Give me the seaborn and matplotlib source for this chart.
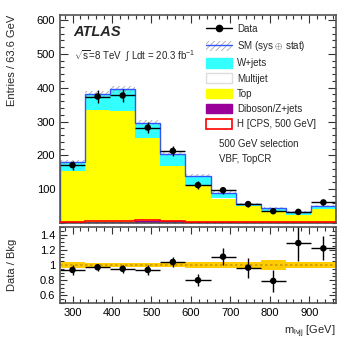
import numpy as np
import pandas as pd
import seaborn as sns
import matplotlib
matplotlib.use("Agg")
import matplotlib.pyplot as plt
from matplotlib.patches import Patch
from matplotlib.lines import Line2D
from matplotlib.ticker import MultipleLocator, FixedLocator

# ---------- data ----------
edges = [268.0, 331.6, 395.2, 458.8, 522.4, 586.0, 649.6, 713.2, 776.8, 840.4, 904.0, 967.6]
data = [171, 374, 377, 282, 213, 112, 97, 56, 35, 33, 61]
data_err = [13, 19, 19, 17, 15, 11, 10, 7.5, 6, 6, 8]
top = [151, 331, 327, 245, 164, 108, 70, 49, 33, 23, 40]
diboson = [2, 3, 4, 6, 5, 3, 2, 1, 1, 1, 1]
multijet = [1, 1, 1, 1, 1, 1, 1, 1, 1, 0, 0]
wjets = [27, 45, 63, 45, 33, 28, 17, 6, 8, 8, 10]
higgs = [4, 6, 7, 10, 7, 4, 4, 3, 3, 3, 3]
sm_err = [6, 10, 10, 8, 6, 5, 4, 3, 3, 3, 3]

ratio = [0.935, 0.97, 0.95, 0.935, 1.04, 0.80, 1.11, 0.965, 0.79, 1.29, 1.22]
ratio_err = [0.07, 0.05, 0.05, 0.06, 0.07, 0.08, 0.11, 0.13, 0.15, 0.24, 0.16]
band_err = [0.035, 0.025, 0.025, 0.025, 0.03, 0.035, 0.035, 0.04, 0.06, 0.045, 0.045]

edges_a = np.array(edges)
centers = 0.5 * (edges_a[:-1] + edges_a[1:])
half = 0.5 * (edges_a[1:] - edges_a[:-1])

df = pd.DataFrame({"x": centers, "top": top, "diboson": diboson, "multijet": multijet,
                   "wjets": wjets, "higgs": higgs, "data": data})
df["l_dib"] = df["diboson"]
df["l_top"] = df["l_dib"] + df["top"]
df["l_mj"] = df["l_top"] + df["multijet"]
df["l_tot"] = df["l_mj"] + df["wjets"]

sns.set_theme(style="ticks")
plt.rcParams['font.family'] = ['Liberation Sans', 'DejaVu Sans']
plt.rcParams['mathtext.fontset'] = 'custom'
plt.rcParams['mathtext.rm'] = 'Liberation Sans'
plt.rcParams['mathtext.it'] = 'Liberation Sans:italic'
plt.rcParams['hatch.linewidth'] = 0.6

fig = plt.figure(figsize=(3.57, 3.40), dpi=100)
ax = fig.add_axes([0.168, 0.344, 0.773, 0.612])
rax = fig.add_axes([0.168, 0.109, 0.773, 0.223])

# ---------- stacked backgrounds (drawn top layer first) ----------
layers = [("l_tot", "#33ffff"), ("l_mj", "white"), ("l_top", "#ffff00"), ("l_dib", "#990099")]
for col, c in layers:
    sns.histplot(data=df, x="x", weights=col, bins=list(edges), element="step", fill=True,
                 color=c, alpha=1, linewidth=0, ax=ax)

tot = df["l_tot"].to_numpy()
err = np.array(sm_err)
ax.fill_between(edges_a, np.r_[tot - err, tot[-1] - err[-1]], np.r_[tot + err, tot[-1] + err[-1]],
                step="post", facecolor="none", edgecolor="#aaaaaa", hatch="//////", linewidth=0)
ax.stairs(tot, edges_a, color="#3355ff", lw=1.0)
ax.stairs(df["higgs"].to_numpy(), edges_a, color="red", lw=1.2, zorder=3)

ax.errorbar(centers, data, xerr=half, yerr=data_err, fmt="none", ecolor="black", lw=1)
sns.scatterplot(x=centers, y=data, color="black", s=22, edgecolor="none", ax=ax, zorder=5)

ax.set_xlim(edges[0], edges[-1])
ax.set_ylim(0, 615)
ax.set_xlabel("")
ax.set_ylabel("Entries / 63.6 GeV", fontsize=8, loc="top")
ax.yaxis.set_label_coords(-0.155, 1.0)
ax.yaxis.set_major_locator(FixedLocator([100, 200, 300, 400, 500, 600]))
ax.yaxis.set_minor_locator(MultipleLocator(20))
ax.xaxis.set_major_locator(MultipleLocator(100))
ax.xaxis.set_minor_locator(MultipleLocator(20))
ax.tick_params(labelbottom=False)

# legend
handles = [
    Line2D([], [], color="black", marker="o", ms=4.5, lw=1),
    (Patch(facecolor="white", edgecolor="#aaaaaa", hatch="//////", lw=0),
     Line2D([], [], color="#3355ff", lw=1)),
    Patch(facecolor="#33ffff", edgecolor="#33ffff"),
    Patch(facecolor="white", edgecolor="#dddddd"),
    Patch(facecolor="#ffff00", edgecolor="#ffff00"),
    Patch(facecolor="#990099", edgecolor="#990099"),
    Patch(facecolor="white", edgecolor="red", lw=1.2),
]
labels = ["Data", r"SM (sys $\oplus$ stat)", "W+jets", "Multijet", "Top",
          "Diboson/Z+jets", "H [CPS, 500 GeV]"]
ax.legend(handles, labels, loc="upper left", bbox_to_anchor=(0.515, 0.975), frameon=False,
          fontsize=7, handlelength=2.7, handleheight=1.15, labelspacing=0.52,
          handletextpad=0.5, borderaxespad=0)

ax.text(0.578, 0.405, "500 GeV selection\nVBF, TopCR", transform=ax.transAxes,
        fontsize=7, va="top", linespacing=1.6)
ax.text(0.05, 0.92, "ATLAS", transform=ax.transAxes, fontsize=10.5,
        fontweight="bold", fontstyle="italic", va="center")
ax.text(0.05, 0.8, r"$\sqrt{\mathrm{s}}$=8 TeV  $\int$ Ldt = 20.3 fb$^{-1}$",
        transform=ax.transAxes, fontsize=7, va="center")

# ---------- ratio panel ----------
r_lo = 1 - np.array(band_err)
r_hi = 1 + np.array(band_err)
rax.fill_between(edges_a, np.r_[r_lo, r_lo[-1]], np.r_[r_hi, r_hi[-1]], step="post",
                 color="#ffcc00", lw=0)
rax.axhline(1, color="#cc9900", ls=(0, (1.5, 1.5)), lw=1.2)
rax.errorbar(centers, ratio, xerr=half, yerr=ratio_err, fmt="none", ecolor="black", lw=1)
sns.scatterplot(x=centers, y=ratio, color="black", s=22, edgecolor="none", ax=rax, zorder=5)
rax.set_xlim(edges[0], edges[-1])
rax.set_ylim(0.5, 1.5)
rax.yaxis.set_major_locator(FixedLocator([0.6, 0.8, 1.0, 1.2, 1.4]))
rax.set_yticklabels(["0.6", "0.8", "1", "1.2", "1.4"])
rax.yaxis.set_minor_locator(MultipleLocator(0.05))
rax.xaxis.set_major_locator(MultipleLocator(100))
rax.xaxis.set_minor_locator(MultipleLocator(20))
rax.set_ylabel("Data / Bkg", fontsize=8)
rax.yaxis.set_label_coords(-0.155, 0.5)
rax.set_xlabel(r"m$_{\mathrm{l\nu jj}}$ [GeV]", fontsize=8, loc="right")

for a in (ax, rax):
    a.tick_params(which="both", direction="in", top=True, right=True, colors="#333333",
                  labelcolor="black", labelsize=8)
    a.tick_params(which="major", length=6, width=0.8)
    a.tick_params(which="minor", length=3, width=0.8)
    for s in a.spines.values():
        s.set_color("#555555")
        s.set_linewidth(1.2)
rax.tick_params(which="major", length=5)

fig.savefig("out.png", dpi=100)
